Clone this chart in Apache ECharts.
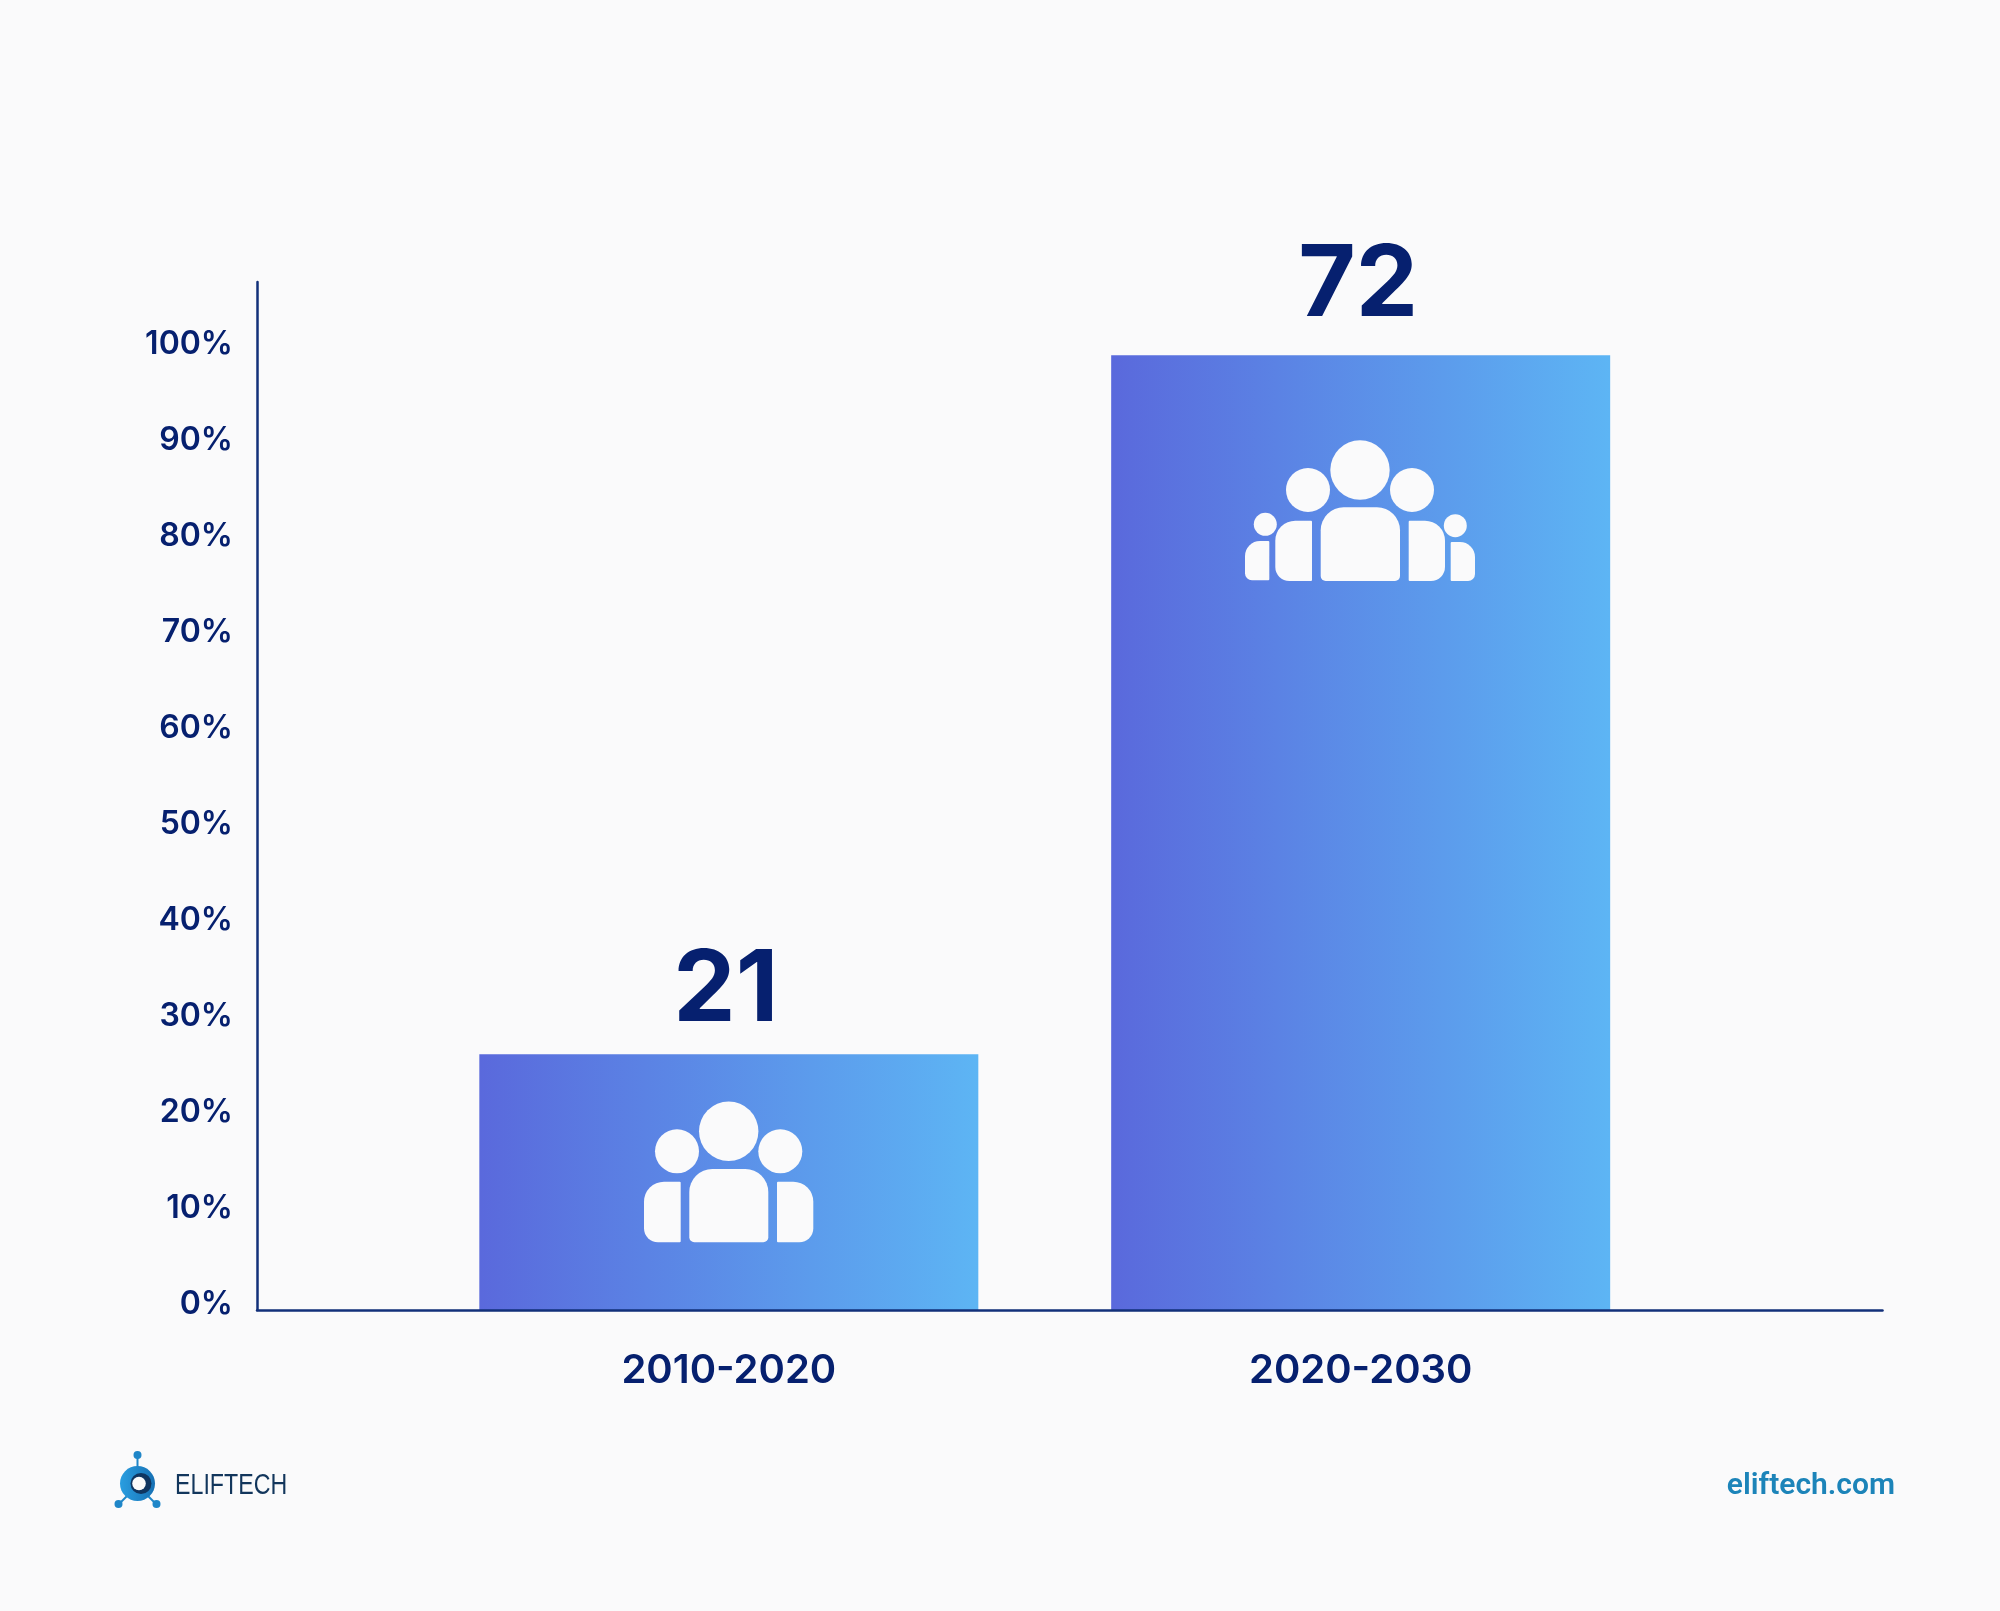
<!DOCTYPE html>
<html>
<head>
<meta charset="utf-8">
<style>html,body{margin:0;padding:0;background:#fafafb}#c{width:2000px;height:1611px}</style>
<script src="https://cdn.jsdelivr.net/npm/echarts@6/dist/echarts.min.js"></script>
</head>
<body>
<div id="c"></div>
<script>
const categories = ['2010-2020', '2020-2030'];
const barShare = [26.65, 99.45];
const barCounts = [21, 72];
const yTickStep = 10;

const INK = '#06206f';
const AXIS = '#12307a';
const FONT = 'Inter, "Noto Sans", sans-serif';
const chart = echarts.init(document.getElementById('c'), null, {renderer: 'canvas'});

const white = '#fafafb';
function head(cx, cy, r) { return {type: 'circle', z: 10, shape: {cx, cy, r}, style: {fill: white}}; }
function body(x1, y1, x2, y2, r) { return {type: 'rect', z: 10, shape: {x: x1, y: y1, width: x2 - x1, height: y2 - y1, r}, style: {fill: white}}; }

const iconA = [
  head(728.7, 1131.3, 29.7), head(677, 1151.3, 22), head(780.3, 1151.3, 22),
  body(689.3, 1169, 768.3, 1242.3, [23, 23, 5, 5]),
  body(644, 1181.7, 680.7, 1242.3, [20, 1, 1, 14]),
  body(777, 1181.7, 813.3, 1242.3, [1, 20, 14, 1])
];
const iconB = [
  head(1360, 470, 29.7), head(1308, 490, 22), head(1412, 490, 22),
  head(1265.3, 524.3, 11.5), head(1455.3, 525.7, 11.5),
  body(1320.7, 507.3, 1400, 581, [23, 23, 5, 5]),
  body(1275.3, 520.7, 1312, 581, [20, 1, 1, 14]),
  body(1408.7, 520.7, 1445, 581, [1, 20, 14, 1]),
  body(1245, 541, 1269.3, 580.3, [15, 1, 1, 7]),
  body(1450.7, 542, 1475, 581, [1, 15, 7, 1])
];

const logoBlue = new echarts.graphic.LinearGradient(0, 0, 1, 0, [
  {offset: 0, color: '#2a9ee0'}, {offset: 1, color: '#1670b4'}
]);
const stem = (x1, y1, x2, y2) => ({type: 'line', shape: {x1, y1, x2, y2}, style: {stroke: '#1f86c8', lineWidth: 2}});
const dot = (cx, cy, r) => ({type: 'circle', shape: {cx, cy, r}, style: {fill: '#1f86c8'}});
const logo = [
  stem(137.5, 1457, 137.5, 1470), stem(119, 1504, 128, 1495), stem(156, 1504, 147, 1495),
  dot(137.5, 1455, 4), dot(118.5, 1504, 4), dot(156.5, 1504, 4),
  {type: 'circle', shape: {cx: 137.5, cy: 1483.5, r: 17.5}, style: {fill: logoBlue}},
  {type: 'circle', shape: {cx: 141, cy: 1483.5, r: 10.5}, style: {fill: '#0f3560'}},
  {type: 'circle', shape: {cx: 139, cy: 1483.5, r: 6.8}, style: {fill: white}},
  {type: 'text', x: 175, y: 1485.5, scaleX: 0.8, style: {text: 'ELIFTECH', fill: '#12365c', font: '29px "Liberation Sans", sans-serif', textAlign: 'left', textVerticalAlign: 'middle'}},
  {type: 'text', x: 1895, y: 1486.5, style: {text: 'eliftech.com', fill: '#1c84b9', font: '600 30px Roboto, sans-serif', textAlign: 'right', textVerticalAlign: 'middle'}}
];

chart.setOption({
  backgroundColor: '#fafafb',
  animation: false,
  grid: [
    {left: 412.9, width: 1263.7, top: 282, bottom: 301},
    {left: 257, width: 1625.5, top: 282, bottom: 301}
  ],
  xAxis: [
    {
      type: 'category', gridIndex: 0, data: categories,
      axisLine: {show: false}, axisTick: {show: false},
      axisLabel: {color: INK, fontFamily: FONT, fontWeight: 600, fontSize: 40, margin: 41}
    },
    {
      type: 'value', gridIndex: 1, min: 0, max: 1, z: 5,
      splitLine: {show: false}, axisTick: {show: false}, axisLabel: {show: false},
      axisLine: {show: true, lineStyle: {color: AXIS, width: 2.5}}
    }
  ],
  yAxis: [
    {type: 'value', gridIndex: 0, min: 0, max: 107.08, show: false, splitLine: {show: false}},
    {
      type: 'value', gridIndex: 1, min: 0, max: 107.08, interval: yTickStep, z: 5,
      splitLine: {show: false}, axisTick: {show: false},
      axisLine: {show: true, lineStyle: {color: AXIS, width: 2.5}},
      axisLabel: {
        showMaxLabel: false, formatter: '{value}%', color: INK, fontFamily: FONT,
        fontWeight: 600, fontSize: 32, margin: 24, verticalAlign: 'bottom', lineHeight: 12
      }
    }
  ],
  series: [{
    type: 'bar', xAxisIndex: 0, yAxisIndex: 0, barWidth: 499,
    data: barShare.map((v, i) => ({
      value: v,
      label: {offset: [i === 0 ? -3 : -2.5, i === 0 ? 13 : 6]}
    })),
    itemStyle: {
      color: new echarts.graphic.LinearGradient(0, 0, 1, 0, [
        {offset: 0, color: '#5a69dc'}, {offset: 1, color: '#5db5f4'}
      ])
    },
    label: {
      show: true, position: 'top', distance: 26,
      formatter: p => String(barCounts[p.dataIndex]),
      color: INK, fontFamily: FONT, fontWeight: 700, fontSize: 99
    }
  }],
  graphic: [...iconA, ...iconB, ...logo]
});
</script>
</body>
</html>
